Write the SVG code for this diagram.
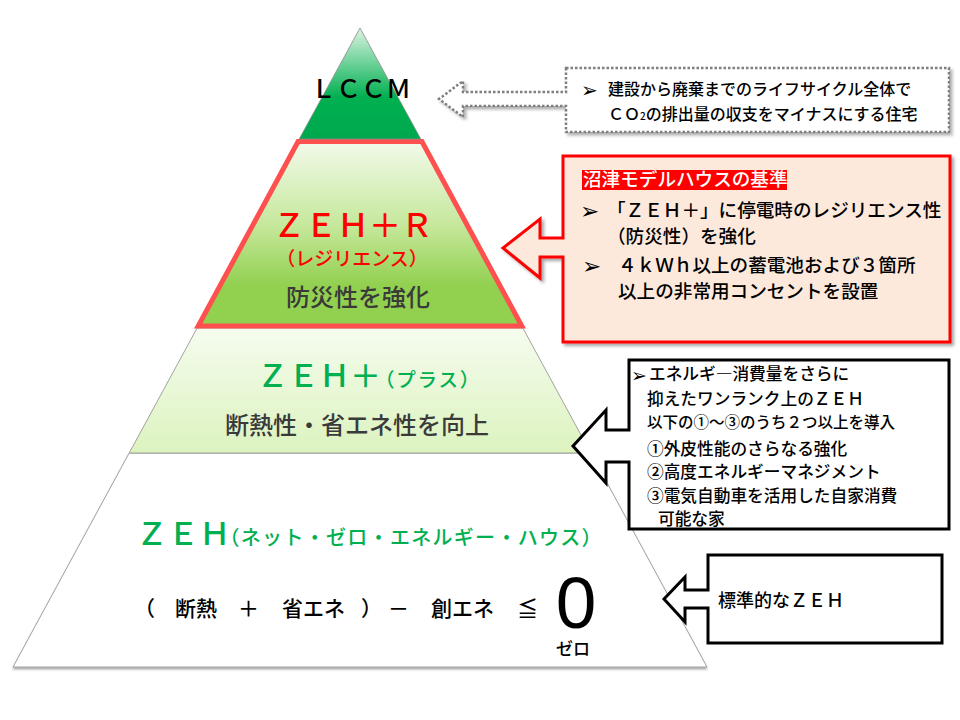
<svg xmlns="http://www.w3.org/2000/svg" width="960" height="720" viewBox="0 0 960 720">
<defs>
<linearGradient id="gLccm" x1="0" y1="28" x2="0" y2="140" gradientUnits="userSpaceOnUse">
<stop offset="0" stop-color="#dcf3e2"/><stop offset="0.62" stop-color="#00b050"/><stop offset="1" stop-color="#00a84e"/>
</linearGradient>
<linearGradient id="gR" x1="0" y1="142" x2="0" y2="326" gradientUnits="userSpaceOnUse">
<stop offset="0" stop-color="#f2faea"/><stop offset="0.45" stop-color="#c6e89c"/><stop offset="0.78" stop-color="#92d050"/><stop offset="1" stop-color="#92d050"/>
</linearGradient>
<linearGradient id="gPlus" x1="0" y1="328" x2="0" y2="453" gradientUnits="userSpaceOnUse">
<stop offset="0" stop-color="#f5fcee"/><stop offset="1" stop-color="#dcf3bf"/>
</linearGradient>
<filter id="sh" x="-10%" y="-10%" width="130%" height="140%">
<feDropShadow dx="2.5" dy="2.5" stdDeviation="1.5" flood-color="#000" flood-opacity="0.35"/>
</filter>
<filter id="shb" x="-5%" y="-5%" width="110%" height="115%">
<feDropShadow dx="0" dy="2" stdDeviation="1.2" flood-color="#000" flood-opacity="0.35"/>
</filter>
<style>
text{font-family:"Noto Sans CJK JP","Noto Sans",sans-serif;font-weight:500;}
.tier{stroke:#8c8c8c;stroke-width:0.8;}
.g{fill:#00b050;}
.dk{fill:#3a3a3a;}
.bul{font-family:"DejaVu Sans",sans-serif;font-size:23px;fill:#000;font-weight:bold;}
.c16{font-size:16px;fill:#000;}
.c17{font-size:16.7px;fill:#000;}
.c18{font-size:18.6px;fill:#000;}
.f21{font-size:21px;fill:#000;}
</style>
</defs>

<g id="tier-zeh">
<path class="tier" d="M129.2,453 L590.8,453 L707,667 L13,667 Z" fill="#ffffff" filter="url(#shb)"/>
<text x="136" y="545"><tspan class="g" font-size="31.5">ＺＥＨ</tspan><tspan class="g" font-size="20" letter-spacing="1.3" dx="-11">（ネット・ゼロ・エネルギー・ハウス）</tspan></text>
<text class="f21" x="134" y="616">（</text>
<text class="f21" x="175" y="616">断熱</text>
<text class="f21" x="248.5" y="616" text-anchor="middle">＋</text>
<text class="f21" x="282" y="616">省エネ</text>
<text class="f21" x="361" y="616">）</text>
<text class="f21" x="398.5" y="616" text-anchor="middle">－</text>
<text class="f21" x="431" y="616">創エネ</text>
<text class="f21" x="527.5" y="616" text-anchor="middle">≦</text>
<text x="576" y="628" text-anchor="middle" style="font-family:'Liberation Sans',Arial,sans-serif;font-weight:normal" font-size="73" fill="#000">0</text>
<text x="573" y="655" text-anchor="middle" font-size="17" fill="#000">ゼロ</text>
</g>

<g id="tier-zeh-plus">
<path class="tier" d="M197.1,328 L522.9,328 L590.8,453 L129.2,453 Z" fill="url(#gPlus)"/>
<text x="257" y="387"><tspan class="g" font-size="31">ＺＥＨ＋</tspan><tspan class="g" font-size="19.5" letter-spacing="1.8" dx="-6">（プラス）</tspan></text>
<text class="dk" x="357" y="434" text-anchor="middle" font-size="24">断熱性・省エネ性を向上</text>
</g>

<g id="tier-zeh-r">
<path d="M298.1,141.5 L421.9,141.5 L521.8,326 L198.2,326 Z" fill="url(#gR)" stroke="#ff5050" stroke-width="5" stroke-linejoin="miter"/>
<text x="353" y="237" text-anchor="middle" font-size="32" fill="#ff0000">ＺＥＨ＋Ｒ</text>
<text x="352" y="266" text-anchor="middle" font-size="19" fill="#ff0000">（レジリエンス）</text>
<text class="dk" x="358" y="306" text-anchor="middle" font-size="24">防災性を強化</text>
</g>

<g id="tier-lccm">
<path class="tier" d="M360,28 L420.8,139 L299.2,139 Z" fill="url(#gLccm)"/>
<text x="361" y="98" text-anchor="middle" font-size="25" fill="#000">ＬＣＣＭ</text>
</g>

<g id="connectors">
</g>

<g id="callout-lccm">
<path d="M566,68 H949 V132 H566 V106 H463 V117 L439,99 L463,81 V92 H566 Z" fill="#ffffff" stroke="#7f7f7f" stroke-width="2.5" stroke-dasharray="2.5 2" filter="url(#sh)"/>
<text class="bul" x="581" y="97" style="font-size:20px">➢</text>
<text class="c16" x="608" y="95">建設から廃棄までのライフサイクル全体で</text>
<text class="c16" x="608" y="120">ＣＯ<tspan font-size="10">2</tspan>の排出量の収支をマイナスにする住宅</text>
</g>

<g id="callout-zeh-r">
<path d="M563,156 H950 V342 H563 V257 H540 V278 L503,248 L540,219 V238 H563 Z" fill="#fde9dc" stroke="#ff0000" stroke-width="3" filter="url(#sh)"/>
<rect x="582" y="170" width="205" height="20" fill="#ff0000"/>
<text x="583" y="186" font-size="18.6" fill="#ffffff">沼津モデルハウスの基準</text>
<text class="bul" x="580" y="219">➢</text>
<text class="c18" x="607" y="217">「ＺＥＨ＋」に停電時のレジリエンス性</text>
<text class="c18" x="607" y="243">（防災性）を強化</text>
<text class="bul" x="582" y="274">➢</text>
<text class="c18" x="618" y="272">４ｋＷｈ以上の蓄電池および３箇所</text>
<text class="c18" x="618" y="298">以上の非常用コンセントを設置</text>
</g>

<g id="callout-zeh-plus">
<path d="M629,360 H949 V529 H629 V462 H606 V483 L573,446 L606,410 V430 H629 Z" fill="#ffffff" stroke="#000" stroke-width="3"/>
<text class="bul" x="631" y="382" style="font-size:19px">➢</text>
<text class="c17" x="649" y="380">エネルギ―消費量をさらに</text>
<text class="c17" x="647" y="405">抑えたワンランク上のＺＥＨ</text>
<text x="647" y="428" font-size="15.5" fill="#000">以下の①～③のうち２つ以上を導入</text>
<text class="c17" x="647" y="455">①外皮性能のさらなる強化</text>
<text class="c17" x="647" y="478">②高度エネルギーマネジメント</text>
<text class="c17" x="647" y="502">③電気自動車を活用した自家消費</text>
<text class="c17" x="658" y="525">可能な家</text>
</g>

<g id="callout-zeh">
<path d="M708,555 H942 V643 H708 V608 H685 V622 L664,599 L685,577 V590 H708 Z" fill="#ffffff" stroke="#000" stroke-width="3"/>
<text x="718" y="607" font-size="18" fill="#000">標準的なＺＥＨ</text>
</g>
</svg>
